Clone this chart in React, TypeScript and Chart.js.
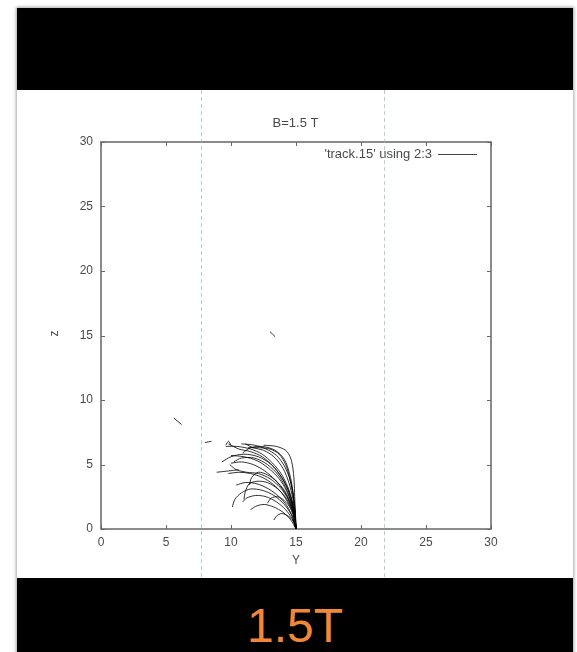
import React, { useEffect, useRef } from "react";
import { Chart, registerables } from "chart.js";

Chart.register(...registerables);

// ---- data ----
const xTicks = [0, 5, 10, 15, 20, 25, 30];
const yTicks = [0, 5, 10, 15, 20, 25, 30];
const markerLinesX = [7.7, 21.8];
const chartTitle = "B=1.5 T";
const xTitle = "Y";
const yTitle = "z";
const legendLabel = "'track.15' using 2:3";
const bottomCaption = "1.5T";

type P = [number, number];
const t01: P[] = [[15, 0], [14.95, 1], [14.85, 2], [14.7, 3], [14.5, 4], [14.2, 5], [13.7, 5.8], [13.0, 6.2], [12.2, 6.3], [11.3, 6.3]];
const t02: P[] = [[15, 0], [14.95, 1.2], [14.9, 2.5], [14.85, 3.8], [14.75, 4.8], [14.55, 5.6], [14.2, 6.1], [13.5, 6.4], [12.5, 6.5]];
const t03: P[] = [[15, 0], [14.9, 1], [14.7, 2], [14.4, 3], [13.9, 4], [13.2, 4.9], [12.4, 5.6], [11.5, 6.0], [10.6, 6.2], [9.8, 6.6]];
const t04: P[] = [[15, 0], [14.9, 1], [14.65, 2], [14.25, 3], [13.7, 3.9], [12.9, 4.7], [12.0, 5.3], [11.0, 5.6], [10.0, 5.7]];
const t05: P[] = [[15, 0], [14.85, 1], [14.55, 2], [14.1, 2.9], [13.4, 3.8], [12.6, 4.5], [11.7, 5.0], [10.8, 5.2], [10.0, 5.1]];
const t06: P[] = [[15, 0], [14.8, 1], [14.45, 1.9], [13.9, 2.8], [13.2, 3.5], [12.4, 4.0], [11.5, 4.3], [10.6, 4.4], [9.8, 4.3]];
const t07: P[] = [[15, 0], [14.75, 0.9], [14.3, 1.8], [13.7, 2.5], [12.9, 3.1], [12.0, 3.5], [11.1, 3.6], [10.4, 3.4]];
const t08: P[] = [[15, 0], [14.7, 0.8], [14.2, 1.5], [13.5, 2.1], [12.7, 2.5], [11.9, 2.6], [11.2, 2.4], [10.9, 2.1]];
const t09: P[] = [[15, 0], [14.6, 0.7], [14.0, 1.3], [13.3, 1.7], [12.6, 1.9], [12.0, 1.8], [11.5, 1.5]];
const t10: P[] = [[15, 0], [14.9, 1.1], [14.7, 2.2], [14.35, 3.3], [13.85, 4.3], [13.2, 5.1], [12.4, 5.8], [11.5, 6.2], [10.5, 6.4], [9.6, 6.4]];
const t11: P[] = [[15, 0], [14.95, 1.3], [14.8, 2.6], [14.55, 3.8], [14.1, 4.9], [13.5, 5.7], [12.7, 6.2], [11.8, 6.5], [10.8, 6.6]];
const t12: P[] = [[15, 0], [14.8, 1.2], [14.4, 2.3], [13.8, 3.2], [13.0, 3.9], [12.1, 4.3], [11.2, 4.4], [10.4, 4.6], [9.9, 5.0]];
const t13: P[] = [[15, 0], [14.7, 1.0], [14.1, 1.9], [13.3, 2.6], [12.4, 3.0], [11.5, 3.1], [10.8, 2.8], [10.3, 2.3], [10.1, 1.7]];
const t14: P[] = [[15, 0], [14.9, 0.8], [14.6, 1.6], [14.1, 2.2], [13.6, 2.5], [13.1, 2.4], [12.8, 2.0]];
const t15: P[] = [[15, 0], [14.8, 0.6], [14.4, 1.0], [13.9, 1.2], [13.5, 1.0], [13.3, 0.7]];
const t16: P[] = [[15, 0], [14.9, 1.5], [14.75, 3.0], [14.5, 4.3], [14.1, 5.4], [13.4, 6.1], [12.4, 6.4], [11.5, 6.3], [10.9, 5.9]];
const t17: P[] = [[15, 0], [14.85, 1.4], [14.5, 2.8], [13.9, 4.0], [13.1, 5.0], [12.1, 5.6], [11.0, 5.8], [10.0, 5.6], [9.3, 5.2]];
const t18: P[] = [[15, 0], [14.8, 1.5], [14.35, 2.9], [13.7, 4.1], [12.8, 5.0], [11.8, 5.5], [10.8, 5.5], [10.2, 5.2]];
const t19: P[] = [[15, 0], [14.9, 1.0], [14.6, 2.0], [14.1, 3.0], [13.5, 3.7], [12.8, 4.2], [12.1, 4.4], [11.6, 4.0], [11.4, 3.4]];
const t20: P[] = [[15, 0], [14.92, 1.2], [14.75, 2.4], [14.45, 3.6], [14.0, 4.7], [13.3, 5.6], [12.5, 6.1], [11.7, 6.3], [11.1, 6.6]];
const t21: P[] = [[10.6, 4.6], [9.8, 4.5], [8.9, 4.4]];
const t22: P[] = [[15, 0], [14.8, 1.2], [14.3, 2.3], [13.6, 3.1], [12.8, 3.6], [12.0, 3.7], [11.4, 3.5], [11.1, 2.9], [11.0, 2.3]];
const s01: P[] = [[5.6, 8.6], [6.2, 8.1]];
const s02: P[] = [[13.0, 15.3], [13.4, 14.9]];
const s03: P[] = [[8.0, 6.7], [8.5, 6.8]];
const s04: P[] = [[9.6, 6.5], [9.8, 6.8], [10.0, 6.5]];

const tracks: P[][] = [t01, t02, t03, t04, t05, t06, t07, t08, t09, t10, t11, t12, t13, t14, t15, t16, t17, t18, t19, t20, t21, t22, s01, s02, s03, s04];

const FONT = "'Liberation Sans', Arial, sans-serif";

const gnuplotPlugin = {
  id: "gnuplotDecor",
  beforeDatasetsDraw(chart: any) {
    const { ctx, chartArea: a, scales } = chart;
    const xs = scales.x, ys = scales.y;
    ctx.save();
    // frame
    ctx.strokeStyle = "#6e6e6e";
    ctx.lineWidth = 1.6;
    ctx.strokeRect(a.left, a.top, a.right - a.left, a.bottom - a.top);
    // inward ticks
    ctx.lineWidth = 1;
    ctx.strokeStyle = "#666";
    const tl = 4;
    ctx.beginPath();
    xTicks.forEach((v) => {
      const px = Math.round(xs.getPixelForValue(v)) + 0.5;
      ctx.moveTo(px, a.bottom); ctx.lineTo(px, a.bottom - tl);
      ctx.moveTo(px, a.top); ctx.lineTo(px, a.top + tl);
    });
    yTicks.forEach((v) => {
      const py = Math.round(ys.getPixelForValue(v)) + 0.5;
      ctx.moveTo(a.left, py); ctx.lineTo(a.left + tl, py);
      ctx.moveTo(a.right, py); ctx.lineTo(a.right - tl, py);
    });
    ctx.stroke();
    // tick labels
    ctx.fillStyle = "#4a4a4a";
    ctx.font = `12px ${FONT}`;
    ctx.textAlign = "center";
    ctx.textBaseline = "middle";
    xTicks.forEach((v) => {
      ctx.fillText(String(v), xs.getPixelForValue(v), a.bottom + 14);
    });
    ctx.textAlign = "right";
    yTicks.forEach((v) => {
      ctx.fillText(String(v), a.left - 8, ys.getPixelForValue(v));
    });
    // axis titles
    ctx.textAlign = "center";
    ctx.fillText(xTitle, (a.left + a.right) / 2, a.bottom + 32);
    ctx.save();
    ctx.translate(a.left - 46, ys.getPixelForValue(15) - 2);
    ctx.rotate(-Math.PI / 2);
    ctx.fillText(yTitle, 0, 0);
    ctx.restore();
    // title
    ctx.font = `13px ${FONT}`;
    ctx.fillText(chartTitle, (a.left + a.right) / 2 - 0.5, a.top - 19);
    // legend
    ctx.textAlign = "right";
    ctx.fillText(legendLabel, a.right - 59, a.top + 12);
    ctx.strokeStyle = "#444";
    ctx.beginPath();
    ctx.moveTo(a.right - 53, a.top + 12.5);
    ctx.lineTo(a.right - 14, a.top + 12.5);
    ctx.stroke();
    ctx.restore();
  },
  afterDraw(chart: any) {
    const { ctx, scales, height } = chart;
    ctx.save();
    ctx.strokeStyle = "rgba(150,178,225,0.7)";
    ctx.lineWidth = 1;
    ctx.setLineDash([4, 3]);
    markerLinesX.forEach((v) => {
      const px = Math.round(scales.x.getPixelForValue(v)) + 0.5;
      ctx.beginPath();
      ctx.moveTo(px, 0);
      ctx.lineTo(px, height);
      ctx.stroke();
    });
    ctx.restore();
  },
};

export default function App() {
  const ref = useRef<HTMLCanvasElement>(null);
  useEffect(() => {
    if (!ref.current) return;
    const chart = new Chart(ref.current, {
      type: "scatter",
      data: {
        datasets: tracks.map((t, i) => ({
          label: i === 0 ? legendLabel : `t${i}`,
          data: t.map(([x, y]) => ({ x, y })),
          showLine: true,
          borderColor: "rgba(0,0,0,0.8)",
          borderWidth: 1,
          pointRadius: 0,
          tension: 0.3,
          fill: false,
        })),
      },
      options: {
        responsive: false,
        maintainAspectRatio: false,
        animation: false,
        devicePixelRatio: 1,
        layout: { padding: { left: 84, right: 82, top: 52, bottom: 49 } },
        plugins: { legend: { display: false }, tooltip: { enabled: false }, title: { display: false } },
        scales: {
          x: { type: "linear", min: 0, max: 30, display: false },
          y: { type: "linear", min: 0, max: 30, display: false },
        },
      },
      plugins: [gnuplotPlugin],
    });
    return () => chart.destroy();
  }, []);

  return (
    <div style={{ position: "fixed", left: 0, top: 0, width: 577, height: 652, background: "#fff", overflow: "hidden" }}>
      <div
        style={{
          position: "absolute", left: 17, top: 8, width: 556, height: 650,
          background: "#fff", boxShadow: "0 0 3px 1px rgba(0,0,0,0.35)",
        }}
      >
        <div style={{ position: "absolute", left: 0, top: 0, width: 556, height: 82, background: "#000" }} />
        <div style={{ position: "absolute", left: 0, top: 82, width: 556, height: 488 }}>
          <canvas ref={ref} width={556} height={488} style={{ display: "block", width: 556, height: 488 }} />
        </div>
        <div
          style={{
            position: "absolute", left: 0, top: 570, width: 556, height: 80, background: "#000",
            color: "#F0883A", fontFamily: FONT, fontSize: 48, textAlign: "center", lineHeight: "96px",
            overflow: "hidden",
          }}
        >
          {bottomCaption}
        </div>
      </div>
    </div>
  );
}
